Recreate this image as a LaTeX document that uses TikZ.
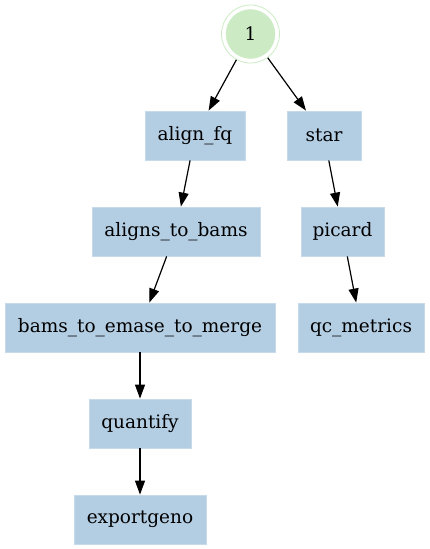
\documentclass[tikz,border=0pt]{standalone}
\usepackage{fontspec}
\setmainfont{DejaVu Serif}
\usetikzlibrary{arrows.meta}
\definecolor{boxblue}{HTML}{B3CDE3}
\definecolor{boxedge}{HTML}{C6DAEB}
\definecolor{startgreen}{HTML}{CCEBC5}
\begin{document}
\begin{tikzpicture}[x=1pt,y=1pt,
  task/.style={rectangle, fill=boxblue, draw=boxedge, line width=0.8pt, inner sep=0pt,
    minimum height=49pt, font=\fontsize{18.5}{22}\selectfont, text=black},
  flow/.style={-{Triangle[length=14pt,width=10pt]}, line width=1.2pt, black}]
\useasboundingbox (0,0) rectangle (429,-549);
\node[circle, draw=startgreen, line width=0.8pt, minimum size=58pt, inner sep=0pt] (s) at (250.5,-34) {};
\node[circle, fill=startgreen, draw=startgreen, minimum size=49pt, inner sep=0pt,
  font=\fontsize{18.5}{22}\selectfont] (si) at (250.5,-34) {1};
\node[task, minimum width=100pt] (a) at (195,-135.5) {align\_fq};
\node[task, minimum width=74pt] (st) at (324,-135.5) {star};
\node[task, minimum width=168pt] (b) at (176,-231.5) {aligns\_to\_bams};
\node[task, minimum width=83pt] (p) at (342.5,-231.5) {picard};
\node[task, minimum width=270pt] (c) at (140,-327.5) {bams\_to\_emase\_to\_merge};
\node[task, minimum width=126pt] (q) at (361,-327.5) {qc\_metrics};
\node[task, minimum width=102pt] (d) at (140,-423.5) {quantify};
\node[task, minimum width=132pt] (e) at (140,-519.5) {exportgeno};
\draw[flow] (s) -- (a);
\draw[flow] (s) -- (st);
\draw[flow] (a) -- (b);
\draw[flow] (st) -- (p);
\draw[flow] (b) -- (c);
\draw[flow] (p) -- (q);
\draw[flow] (c) -- (d);
\draw[flow] (d) -- (e);
\end{tikzpicture}
\end{document}
